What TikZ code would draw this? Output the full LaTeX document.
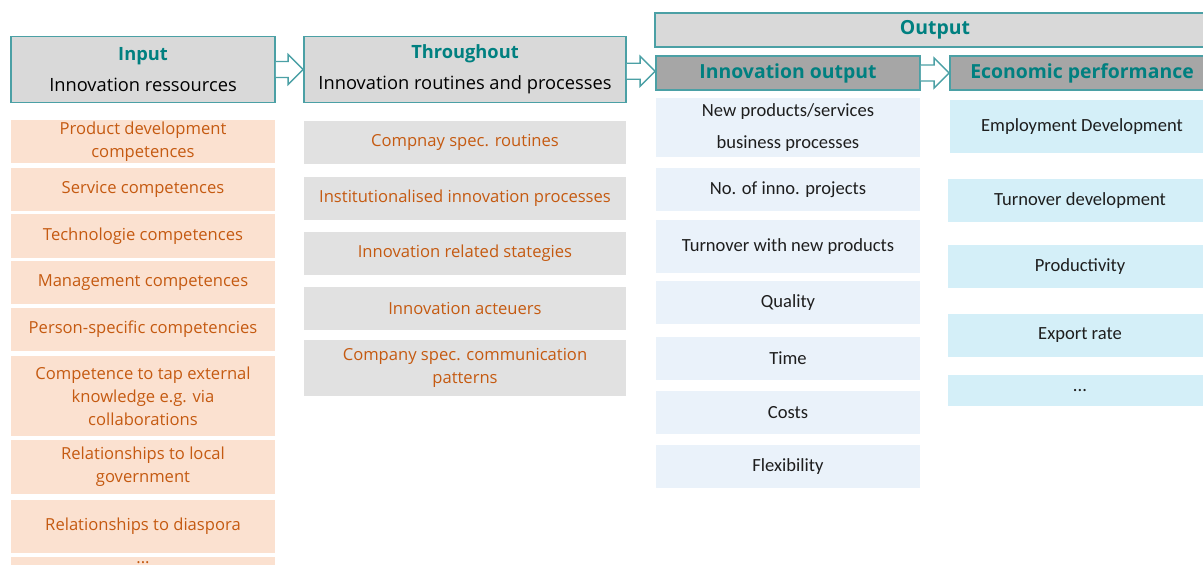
\documentclass[tikz,border=0pt]{standalone}
\usepackage{fontspec}
\setmainfont{Open Sans}
\newfontfamily\calib{Carlito}
\usetikzlibrary{positioning,calc}

\definecolor{tealtxt}{RGB}{0,128,128}
\definecolor{tealline}{RGB}{75,160,165}
\definecolor{hdrgray}{RGB}{217,217,217}
\definecolor{hdrdark}{RGB}{166,166,166}
\definecolor{orfill}{RGB}{251,225,208}
\definecolor{ortxt}{RGB}{197,90,17}
\definecolor{itgray}{RGB}{225,225,225}
\definecolor{blfill}{RGB}{234,242,250}
\definecolor{cyfill}{RGB}{212,239,248}
\definecolor{txtdark}{RGB}{30,30,30}

\begin{document}
\begin{tikzpicture}[x=0.025cm,y=-0.025cm,align=center,
	hdr/.style={draw=tealline,line width=1.2pt,fill=hdrgray,inner sep=0pt,font={\fontsize{13}{22}\selectfont}},
	subhdr/.style={hdr,fill=hdrdark,font={\fontsize{13.8}{16}\selectfont\bfseries},text=tealtxt},
	inpitem/.style={fill=orfill,text=ortxt,inner sep=0pt,minimum width=6.6cm,font={\fontsize{11.8}{16.4}\selectfont}},
	thritem/.style={inpitem,fill=itgray,minimum width=8.05cm},
	ioitem/.style={fill=blfill,text=txtdark,inner sep=0pt,minimum width=6.6cm,font={\calib\fontsize{13.2}{16}\selectfont}},
	epitem/.style={ioitem,fill=cyfill},
	blockarr/.style={draw=tealline,line width=1pt,fill=white}]
	\useasboundingbox (0,0) rectangle (1203,565);
	% headers
	\node[hdr,minimum width=6.6cm,minimum height=1.65cm] (inp) at (143,69.5) {\textbf{\textcolor{tealtxt}{Input}}\\Innovation ressources};
	\node[hdr,minimum width=8.05cm,minimum height=1.65cm] (thr) at (465,69.5) {\textbf{\textcolor{tealtxt}{Throughout}}\\Innovation routines and processes};
	\node[hdr,minimum width=14cm,minimum height=0.85cm,font={\fontsize{13.8}{16}\selectfont\bfseries},text=tealtxt] (out) at (935,30) {Output};
	\node[subhdr,minimum width=6.6cm,minimum height=0.85cm] (io) at (788,73) {Innovation output};
	\node[subhdr,minimum width=6.6cm,minimum height=0.85cm] (ep) at (1082,73) {Economic performance};
	
	% input column
	\node[inpitem,minimum height=1.075cm] (a1) at (143,141.5) {Product development\\competences};
	\node[inpitem,minimum height=1.075cm] (a2) at (143,189.5) {Service competences};
	\node[inpitem,minimum height=1.1cm] (a3) at (143,236) {Technologie competences};
	\node[inpitem,minimum height=1.075cm] (a4) at (143,282.5) {Management competences};
	\node[inpitem,minimum height=1.075cm] (a5) at (143,329.5) {Person-specific competencies};
	\node[inpitem,minimum height=2cm] (a6) at (143,396) {Competence to tap external\\knowledge e.g. via\\collaborations};
	\node[inpitem,minimum height=1.35cm] (a7) at (143,467) {Relationships to local\\government};
	\node[inpitem,minimum height=1.325cm] (a8) at (143,526.5) {Relationships to diaspora};
	\node[inpitem,minimum height=0.45cm,anchor=north] (a9) at (143,557) {\raisebox{0.9ex}{...}};
	
	% throughout column
	\node[thritem,minimum height=1.075cm] (b1) at (465,142.5) {Compnay spec. routines};
	\node[thritem,minimum height=1.075cm] (b2) at (465,198.5) {Institutionalised innovation processes};
	\node[thritem,minimum height=1.075cm] (b3) at (465,253.5) {Innovation related stategies};
	\node[thritem,minimum height=1.075cm] (b4) at (465,308.5) {Innovation acteuers};
	\node[thritem,minimum height=1.4cm] (b5) at (465,368) {Company spec. communication\\patterns};
	
	% innovation output column
	\node[ioitem,minimum height=1.475cm] (c1) at (788,127.5) {New products/services\\[7pt]business processes};
	\node[ioitem,minimum height=1.075cm] (c2) at (788,189.5) {No. of inno. projects};
	\node[ioitem,minimum height=1.325cm] (c3) at (788,246.5) {Turnover with new products};
	\node[ioitem,minimum height=1.075cm] (c4) at (788,302.5) {Quality};
	\node[ioitem,minimum height=1.075cm] (c5) at (788,358.5) {Time};
	\node[ioitem,minimum height=1.075cm] (c6) at (788,412.5) {Costs};
	\node[ioitem,minimum height=1.075cm] (c7) at (788,466.5) {Flexibility};
	
	% economic performance column
	\node[epitem,minimum height=1.325cm] (d1) at (1082,126.5) {Employment Development};
	\node[epitem,minimum height=1.075cm] (d2) at (1080,200.5) {Turnover development};
	\node[epitem,minimum height=1.075cm] (d3) at (1080,266.5) {Productivity};
	\node[epitem,minimum height=1.075cm] (d4) at (1080,335.5) {Export rate};
	\node[epitem,minimum height=0.775cm] (d5) at (1080,390.5) {...};
	
	% hollow arrows between the headers
	\foreach \a/\b in {inp/thr,thr/io,io/ep}{
		\coordinate (m) at ($(\a.east)!0.5!(\b.west)$);
		\coordinate (t) at (\a.east |- m);
		\coordinate (p) at (\b.west |- m);
		\draw[blockarr] ($(t)+(0,-8)$) -- ($(p)+(-15,-8)$) -- ($(p)+(-15,-15)$) -- (p) -- ($(p)+(-15,15)$) -- ($(p)+(-15,8)$) -- ($(t)+(0,8)$);
	}
\end{tikzpicture}
\end{document}
